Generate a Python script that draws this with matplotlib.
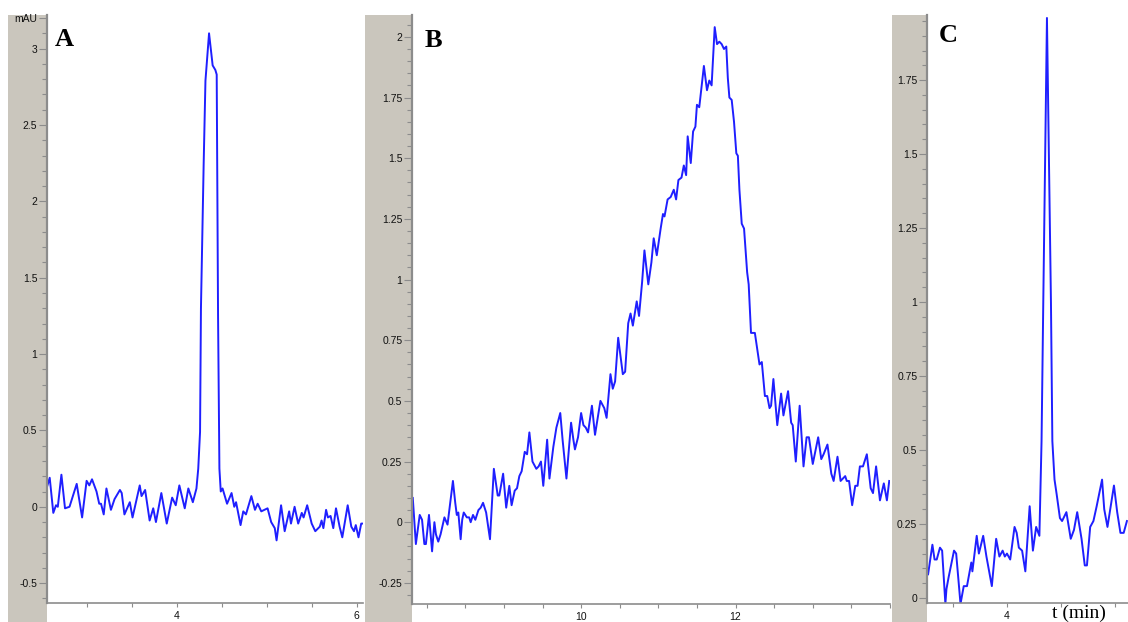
import matplotlib
matplotlib.use("Agg")
import matplotlib.pyplot as plt
from matplotlib.patches import Rectangle
from matplotlib.ticker import MultipleLocator, FormatStrFormatter

# panel A (retention time in min, absorbance in mAU)
t_a = [2.56, 2.59, 2.63, 2.66, 2.68, 2.72, 2.76, 2.81, 2.89, 2.95, 3.00, 3.03,
       3.06, 3.11, 3.14, 3.16, 3.19, 3.22, 3.27, 3.31, 3.37, 3.39, 3.42, 3.48,
       3.51, 3.59, 3.61, 3.65, 3.70, 3.74, 3.77, 3.83, 3.89, 3.95, 3.99, 4.03,
       4.09, 4.13, 4.18, 4.22, 4.24, 4.26, 4.27, 4.30, 4.32, 4.36, 4.40, 4.43,
       4.445, 4.46, 4.475, 4.49, 4.51, 4.56, 4.61, 4.64, 4.66, 4.71, 4.74, 4.77,
       4.83, 4.87, 4.90, 4.94, 5.01, 5.05, 5.09, 5.11, 5.16, 5.20, 5.25, 5.27,
       5.31, 5.35, 5.39, 5.41, 5.45, 5.50, 5.54, 5.59, 5.61, 5.63, 5.66, 5.68,
       5.71, 5.74, 5.77, 5.81, 5.84, 5.90, 5.94, 5.97, 5.99, 6.02, 6.05, 6.08]
mau_a = [0.13, 0.19, -0.04, 0.01, 0.00, 0.21, -0.01, 0.00, 0.15, -0.07, 0.17, 0.14,
         0.18, 0.10, 0.02, 0.02, -0.05, 0.12, -0.02, 0.05, 0.11, 0.09, -0.05, 0.03,
         -0.07, 0.14, 0.07, 0.11, -0.09, -0.01, -0.10, 0.09, -0.11, 0.06, 0.01, 0.14,
         -0.01, 0.12, 0.03, 0.12, 0.25, 0.49, 1.30, 2.24, 2.79, 3.10, 2.89, 2.86,
         2.83, 1.25, 0.25, 0.10, 0.12, 0.02, 0.09, 0.00, 0.03, -0.12, -0.03, -0.05,
         0.07, -0.02, 0.02, -0.03, -0.01, -0.10, -0.14, -0.22, 0.01, -0.16, -0.03, -0.11,
         0.00, -0.11, -0.04, -0.07, 0.01, -0.11, -0.16, -0.13, -0.09, -0.14, -0.02, -0.07,
         -0.06, -0.14, -0.01, -0.13, -0.20, 0.01, -0.13, -0.16, -0.12, -0.20, -0.11, -0.11]

# panel B
t_b = [7.82, 7.86, 7.91, 7.94, 7.97, 7.99, 8.03, 8.07, 8.10, 8.12, 8.15, 8.18,
       8.23, 8.27, 8.34, 8.37, 8.39, 8.41, 8.44, 8.46, 8.48, 8.52, 8.55, 8.57,
       8.60, 8.63, 8.67, 8.70, 8.73, 8.77, 8.82, 8.87, 8.92, 8.94, 8.99, 9.03,
       9.07, 9.10, 9.14, 9.17, 9.20, 9.23, 9.27, 9.30, 9.33, 9.37, 9.42, 9.45,
       9.48, 9.51, 9.56, 9.59, 9.64, 9.68, 9.73, 9.76, 9.81, 9.87, 9.90, 9.92,
       9.96, 10.00, 10.03, 10.06, 10.09, 10.14, 10.18, 10.22, 10.25, 10.30, 10.33, 10.38,
       10.41, 10.44, 10.48, 10.54, 10.57, 10.61, 10.64, 10.67, 10.72, 10.75, 10.79, 10.82,
       10.87, 10.91, 10.94, 10.98, 11.03, 11.06, 11.08, 11.12, 11.16, 11.20, 11.23, 11.26,
       11.30, 11.33, 11.36, 11.38, 11.42, 11.45, 11.48, 11.50, 11.53, 11.59, 11.63, 11.66,
       11.69, 11.73, 11.76, 11.79, 11.82, 11.85, 11.88, 11.90, 11.92, 11.95, 11.98, 12.01,
       12.03, 12.05, 12.08, 12.11, 12.15, 12.17, 12.20, 12.25, 12.31, 12.34, 12.38, 12.41,
       12.44, 12.46, 12.49, 12.54, 12.59, 12.62, 12.68, 12.72, 12.74, 12.78, 12.83, 12.88,
       12.92, 12.95, 13.00, 13.07, 13.11, 13.14, 13.19, 13.24, 13.27, 13.32, 13.36, 13.42,
       13.44, 13.47, 13.51, 13.55, 13.58, 13.61, 13.65, 13.70, 13.75, 13.78, 13.82, 13.87,
       13.92, 13.96, 13.99]
mau_b = [0.10, -0.09, 0.03, 0.01, -0.09, -0.09, 0.03, -0.12, 0.00, -0.05, -0.08, -0.05,
         0.02, -0.01, 0.17, 0.08, 0.03, 0.04, -0.07, 0.01, 0.04, 0.02, 0.02, 0.00,
         0.03, 0.01, 0.05, 0.06, 0.08, 0.04, -0.07, 0.22, 0.11, 0.11, 0.20, 0.06,
         0.15, 0.07, 0.13, 0.14, 0.19, 0.21, 0.29, 0.28, 0.37, 0.25, 0.22, 0.23,
         0.25, 0.15, 0.34, 0.18, 0.31, 0.39, 0.45, 0.34, 0.18, 0.41, 0.34, 0.30,
         0.35, 0.45, 0.40, 0.39, 0.37, 0.48, 0.36, 0.44, 0.50, 0.47, 0.43, 0.61,
         0.55, 0.58, 0.76, 0.61, 0.62, 0.82, 0.86, 0.81, 0.91, 0.85, 0.99, 1.12,
         0.98, 1.07, 1.17, 1.10, 1.21, 1.27, 1.26, 1.33, 1.34, 1.37, 1.33, 1.41,
         1.42, 1.47, 1.43, 1.59, 1.48, 1.61, 1.63, 1.72, 1.71, 1.88, 1.78, 1.82,
         1.80, 2.04, 1.97, 1.98, 1.97, 1.95, 1.96, 1.83, 1.75, 1.74, 1.65, 1.52,
         1.51, 1.37, 1.23, 1.21, 1.03, 0.98, 0.78, 0.78, 0.65, 0.66, 0.52, 0.52,
         0.47, 0.48, 0.59, 0.40, 0.53, 0.44, 0.54, 0.41, 0.40, 0.25, 0.48, 0.23,
         0.35, 0.35, 0.24, 0.35, 0.26, 0.28, 0.32, 0.20, 0.17, 0.27, 0.17, 0.19,
         0.17, 0.17, 0.07, 0.15, 0.15, 0.23, 0.23, 0.28, 0.14, 0.12, 0.23, 0.09,
         0.16, 0.09, 0.17]

# panel C
t_c = [3.27, 3.31, 3.33, 3.35, 3.38, 3.40, 3.43, 3.44, 3.46, 3.51, 3.53, 3.57,
       3.60, 3.63, 3.67, 3.68, 3.72, 3.74, 3.78, 3.81, 3.86, 3.90, 3.93, 3.96,
       3.98, 4.00, 4.03, 4.07, 4.09, 4.11, 4.14, 4.17, 4.21, 4.24, 4.27, 4.30,
       4.32, 4.336, 4.37, 4.407, 4.42, 4.44, 4.46, 4.49, 4.51, 4.55, 4.59, 4.62,
       4.65, 4.69, 4.72, 4.74, 4.77, 4.80, 4.83, 4.88, 4.90, 4.93, 4.99, 5.02,
       5.05, 5.08, 5.11]
mau_c = [0.08, 0.18, 0.13, 0.13, 0.17, 0.16, -0.02, 0.03, 0.07, 0.16, 0.15, -0.02,
         0.04, 0.04, 0.12, 0.09, 0.21, 0.15, 0.21, 0.14, 0.04, 0.20, 0.14, 0.16,
         0.14, 0.15, 0.13, 0.24, 0.22, 0.17, 0.16, 0.09, 0.31, 0.16, 0.24, 0.21,
         0.53, 1.00, 1.96, 1.00, 0.53, 0.40, 0.35, 0.27, 0.26, 0.29, 0.20, 0.23,
         0.29, 0.20, 0.11, 0.11, 0.24, 0.26, 0.31, 0.40, 0.30, 0.24, 0.38, 0.29,
         0.22, 0.22, 0.26]

W, H = 1128, 622
GRAY = "#cac6bd"
AXIS = "#8c8c8c"
BLUE = "#1f1fff"

plt.rcParams["font.family"] = ["Liberation Sans", "DejaVu Sans"]
fig = plt.figure(figsize=(W / 100, H / 100), dpi=100)


def strip(x0, x1, top=15):
    fig.patches.append(Rectangle((x0 / W, 0), (x1 - x0) / W, (H - top) / H,
                                 transform=fig.transFigure, facecolor=GRAY,
                                 edgecolor="none", zorder=0))


def panel(box, t, y, xlim, ylim, xmajor, ystep, yminor):
    x0, y0, x1, y1 = box
    ax = fig.add_axes([x0 / W, 1 - y1 / H, (x1 - x0) / W, (y1 - y0) / H])
    ax.set_zorder(2)
    ax.set_facecolor("white")
    ax.plot(t, y, color=BLUE, lw=1.4)
    ax.set_xlim(*xlim)
    ax.set_ylim(*ylim)
    ax.set_xticks(xmajor)
    ax.xaxis.set_minor_locator(MultipleLocator(0.5))
    ax.yaxis.set_major_locator(MultipleLocator(ystep))
    ax.yaxis.set_minor_locator(MultipleLocator(yminor))
    ax.yaxis.set_major_formatter(FormatStrFormatter("%g"))
    for s in ("top", "right"):
        ax.spines[s].set_visible(False)
    ax.spines["left"].set_color(AXIS)
    ax.spines["left"].set_linewidth(1.6)
    ax.spines["bottom"].set_color(AXIS)
    ax.spines["bottom"].set_linewidth(1.2)
    ax.tick_params(axis="y", which="major", length=6, width=0.8, color=AXIS,
                   labelsize=7.5, labelcolor="#111111", pad=1)
    ax.tick_params(axis="y", which="minor", length=3.5, width=0.8, color=AXIS)
    ax.tick_params(axis="x", which="both", length=3, width=0.8, color=AXIS,
                   labelsize=7.5, labelcolor="#111111", pad=3)
    return ax


strip(8, 47)
strip(365, 412)
strip(892, 927)

ax_a = panel((47, 15, 363, 603), t_a, mau_a, (2.56, 6.07), (-0.63, 3.22),
             [4, 6], 0.5, 0.1)
ax_a.set_yticks([-0.5, 0, 0.5, 1, 1.5, 2, 2.5, 3, 3.2],
                ["-0.5", "0", "0.5", "1", "1.5", "2", "2.5", "3", "mAU"])

ax_b = panel((412, 15, 890, 604), t_b, mau_b, (7.81, 14.0), (-0.337, 2.09),
             [10, 12], 0.25, 0.05)
ax_c = panel((927, 15, 1128, 603), t_c, mau_c, (3.26, 5.12), (-0.017, 1.97),
             [4], 0.25, 0.05)

serif = ["Liberation Serif", "DejaVu Serif"]
for label, x, y in (("A", 55, 46), ("B", 425, 47), ("C", 939, 42)):
    fig.text(x / W, 1 - y / H, label, family=serif, fontsize=19,
             fontweight="bold", va="baseline", ha="left", zorder=5)
fig.text(1052 / W, 1 - 618 / H, "t (min)", family=serif, fontsize=14,
         va="baseline", ha="left", zorder=5)

fig.savefig("out.png", dpi=100)
